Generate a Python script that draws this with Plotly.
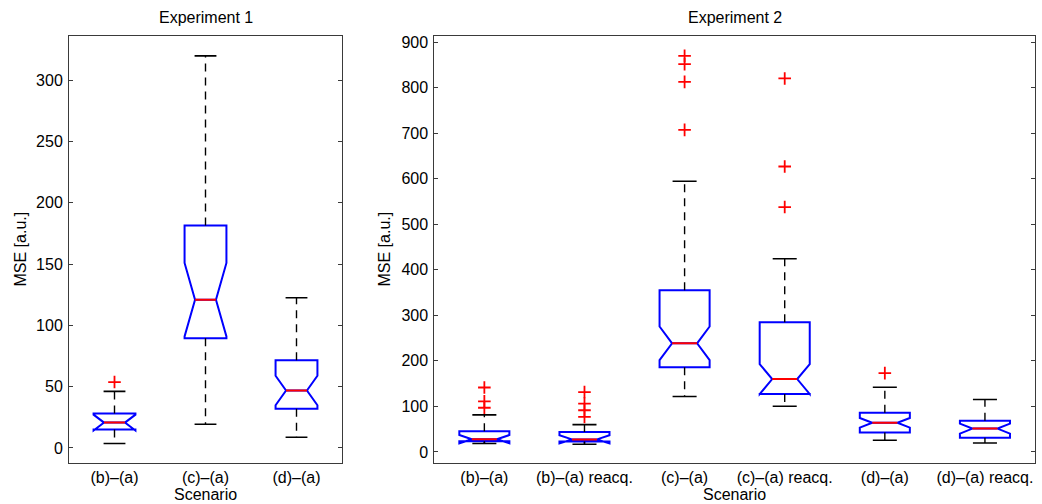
import plotly.graph_objects as go

# ---------------- data ----------------
exp1_labels = ["(b)–(a)", "(c)–(a)", "(d)–(a)"]
exp1_q1 = [15.0, 89.5, 32.0]
exp1_med = [20.7, 121.0, 46.9]
exp1_q3 = [28.2, 181.6, 71.6]
exp1_lo = [3.6, 19.3, 8.8]
exp1_hi = [46.2, 320.0, 122.6]
exp1_notch = [6.5, 30.0, 12.0]
exp1_outliers = [[53.8], [], []]

exp2_labels = ["(b)–(a)", "(b)–(a) reacq.", "(c)–(a)", "(c)–(a) reacq.",
               "(d)–(a)", "(d)–(a) reacq."]
exp2_q1 = [23.4, 23.0, 186.0, 127.5, 42.4, 31.0]
exp2_med = [28.0, 27.5, 238.5, 160.0, 64.0, 51.2]
exp2_q3 = [45.3, 43.8, 355.0, 285.0, 86.1, 68.5]
exp2_lo = [18.4, 16.8, 121.9, 100.5, 25.6, 19.5]
exp2_hi = [81.5, 60.0, 594.5, 424.5, 142.2, 115.3]
exp2_notch = [9.0, 9.0, 37.0, 33.0, 10.5, 11.0]
exp2_outliers = [[141.5, 111.0, 97.0], [131.5, 106.0, 91.5, 77.0],
                 [870.0, 852.0, 813.0, 707.5], [820.5, 627.0, 538.0], [173.0], []]

# ---------------- styling ----------------
FONT = "Liberation Sans, Arial, Helvetica, sans-serif"
FS = 16
BLUE = "#0000ff"
RED = "#ff0000"
NOTCHW = 0.25          # plotly: waist = box width * (1 - 2*notchwidth)
CAPW = 0.24

fig = go.Figure()


def add_panel(labels, q1, med, q3, lo, hi, notch, outliers, boxw, xa, ya):
    pos = list(range(1, len(labels) + 1))
    # whiskers (dashed) and caps (solid)
    wx, wy, cx, cy = [], [], [], []
    for p, a, b, l, h in zip(pos, q1, q3, lo, hi):
        wx += [p, p, None, p, p, None]
        wy += [b, h, None, a, l, None]
        cx += [p - CAPW / 2, p + CAPW / 2, None, p - CAPW / 2, p + CAPW / 2, None]
        cy += [h, h, None, l, l, None]
    fig.add_trace(go.Scatter(x=wx, y=wy, mode="lines", xaxis=xa, yaxis=ya,
                             line=dict(color="black", width=1.4, dash="8px,6px"),
                             hoverinfo="skip", showlegend=False))
    fig.add_trace(go.Scatter(x=cx, y=cy, mode="lines", xaxis=xa, yaxis=ya,
                             line=dict(color="black", width=1.6),
                             hoverinfo="skip", showlegend=False))
    # notched boxes
    fig.add_trace(go.Box(x=pos, q1=q1, median=med, q3=q3,
                         lowerfence=q1, upperfence=q3, notchspan=notch,
                         notched=True, notchwidth=NOTCHW, width=boxw,
                         whiskerwidth=0, boxpoints=False,
                         line=dict(color=BLUE, width=2),
                         fillcolor="rgba(0,0,0,0)", xaxis=xa, yaxis=ya,
                         showlegend=False))
    # red medians across the notch waist
    hw = boxw / 2 * (1 - 2 * NOTCHW)
    mx, my = [], []
    for p, m in zip(pos, med):
        mx += [p - hw, p + hw, None]
        my += [m, m, None]
    fig.add_trace(go.Scatter(x=mx, y=my, mode="lines", xaxis=xa, yaxis=ya,
                             line=dict(color=RED, width=2),
                             hoverinfo="skip", showlegend=False))
    # outliers
    ox, oy = [], []
    for p, outs in zip(pos, outliers):
        for v in outs:
            ox.append(p)
            oy.append(v)
    fig.add_trace(go.Scatter(x=ox, y=oy, mode="markers", xaxis=xa, yaxis=ya,
                             marker=dict(symbol="cross-thin", size=9,
                                         line=dict(color=RED, width=1.8)),
                             showlegend=False))


add_panel(exp1_labels, exp1_q1, exp1_med, exp1_q3, exp1_lo, exp1_hi,
          exp1_notch, exp1_outliers, 0.46, "x", "y")
add_panel(exp2_labels, exp2_q1, exp2_med, exp2_q3, exp2_lo, exp2_hi,
          exp2_notch, exp2_outliers, 0.50, "x2", "y2")

W, H = 1042, 504
ydom = [1 - 463 / H, 1 - 34 / H]
x1dom = [69 / W, 342 / W]
x2dom = [434.3 / W, 1035 / W]

axis_common = dict(showline=True, linecolor="#3a3a3a", linewidth=1, showgrid=False,
                   zeroline=False, tickfont=dict(family=FONT, size=FS, color="black"))

fig.update_layout(
    width=W, height=H, margin=dict(l=0, r=0, t=0, b=0),
    paper_bgcolor="white", plot_bgcolor="white",
    font=dict(family=FONT, size=FS, color="black"),
    xaxis=dict(domain=x1dom, anchor="y", range=[0.5, 3.5],
               tickmode="array", tickvals=[1, 2, 3], ticktext=exp1_labels,
               ticks="", mirror=True, ticklabelstandoff=0, **axis_common),
    yaxis=dict(domain=ydom, anchor="x", range=[-12.4, 336.3],
               tickmode="array", tickvals=[0, 50, 100, 150, 200, 250, 300],
               ticks="inside", ticklen=4, tickcolor="#3a3a3a", mirror="ticks",
               ticklabelstandoff=2, **axis_common),
    xaxis2=dict(domain=x2dom, anchor="y2", range=[0.5, 6.5],
                tickmode="array", tickvals=[1, 2, 3, 4, 5, 6], ticktext=exp2_labels,
                ticks="", mirror=True, ticklabelstandoff=0, **axis_common),
    yaxis2=dict(domain=ydom, anchor="x2", range=[-24.7, 914],
                tickmode="array", tickvals=list(range(0, 1000, 100)),
                ticks="inside", ticklen=4, tickcolor="#3a3a3a", mirror="ticks",
                ticklabelstandoff=2, **axis_common),
)

ann = dict(xref="paper", yref="paper", showarrow=False,
           font=dict(family=FONT, size=FS, color="black"))
fig.add_annotation(text="Experiment 1", x=(69 + 342) / 2 / W, y=1 - 16 / H,
                   xanchor="center", yanchor="middle", **ann)
fig.add_annotation(text="Experiment 2", x=(434.3 + 1035) / 2 / W, y=1 - 16 / H,
                   xanchor="center", yanchor="middle", **ann)
fig.add_annotation(text="MSE [a.u.]", x=21 / W, y=1 - 248.5 / H, textangle=-90,
                   xanchor="center", yanchor="middle", **ann)
fig.add_annotation(text="MSE [a.u.]", x=385 / W, y=1 - 248.5 / H, textangle=-90,
                   xanchor="center", yanchor="middle", **ann)
fig.add_annotation(text="Scenario", x=(69 + 342) / 2 / W, y=1 - 494 / H,
                   xanchor="center", yanchor="middle", **ann)
fig.add_annotation(text="Scenario", x=(434.3 + 1035) / 2 / W, y=1 - 494 / H,
                   xanchor="center", yanchor="middle", **ann)

fig.write_html("out.html",
               config={"displayModeBar": False},
               post_script="document.body.style.margin='0px';"
                           "document.body.style.overflow='hidden';")
